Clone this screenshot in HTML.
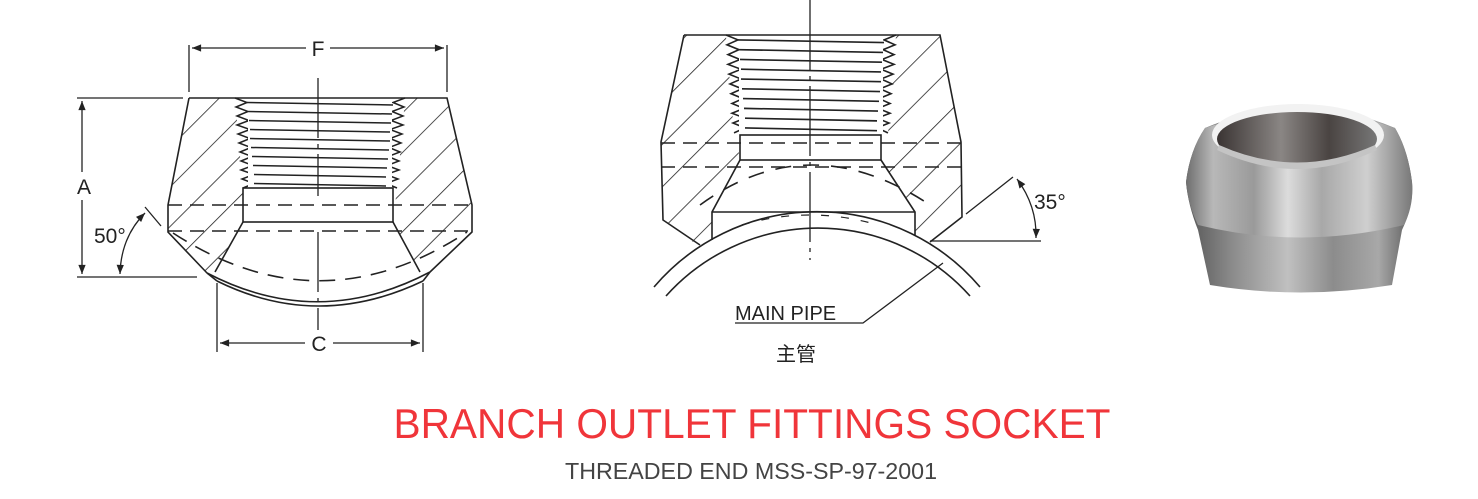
<!DOCTYPE html>
<html><head><meta charset="utf-8"><style>
html,body{margin:0;padding:0;background:#fff;}
svg{display:block;}
</style></head><body>
<svg width="1478" height="499" viewBox="0 0 1478 499" xmlns="http://www.w3.org/2000/svg">
<defs>
<pattern id="h1" width="28" height="28" patternUnits="userSpaceOnUse" patternTransform="rotate(45)">
<line x1="0" y1="0" x2="0" y2="28" stroke="#222" stroke-width="1.6"/></pattern>
<pattern id="h2" width="30" height="30" patternUnits="userSpaceOnUse" patternTransform="rotate(45)">
<line x1="0" y1="0" x2="0" y2="30" stroke="#222" stroke-width="1.6"/></pattern>
<marker id="ar" viewBox="0 0 10 10" refX="10" refY="5" markerWidth="9" markerHeight="7" orient="auto-start-reverse">
<path d="M0,1 L10,5 L0,9 Z" fill="#222"/></marker>
<g id="thr" fill="none" stroke="#222" stroke-width="1.5">
<polyline fill="#fff" points="235,98 247,102.5 236,107 248,111.5 237,116 249,120.5 237,125 250,129.5 238,134 250,138.5 239,143 251,147.5 240,152 252,156.5 241,161 253,165.5 241,170 254,174.5 242,179 254,183.5 243,188"/>
<polyline fill="#fff" points="405,98 393,102.5 404,107 392,111.5 403,116 391,120.5 403,125 390,129.5 402,134 390,138.5 401,143 389,147.5 400,152 388,156.5 399,161 387,165.5 399,170 386,174.5 398,179 386,183.5 397,188"/>
<rect x="248" y="99" width="144" height="88" fill="#fff" stroke="none"/>
<path d="M247,102.5 L393,105 M248,111.5 L392,114 M249,120.5 L391,123 M250,129.5 L390,132 M250,138.5 L390,141 M251,147.5 L389,150 M252,156.5 L388,159 M253,165.5 L387,168 M254,174.5 L386,177 M254,183.5 L386,186"/>
</g>
<linearGradient id="mg" x1="0" y1="0" x2="1" y2="0">
<stop offset="0" stop-color="#6e6e6e"/><stop offset="0.12" stop-color="#b8b8b8"/>
<stop offset="0.3" stop-color="#9a9a9a"/><stop offset="0.45" stop-color="#dcdcdc"/>
<stop offset="0.6" stop-color="#a8a8a8"/><stop offset="0.8" stop-color="#cfcfcf"/>
<stop offset="1" stop-color="#787878"/></linearGradient>
<linearGradient id="mg2" x1="0" y1="0" x2="1" y2="0">
<stop offset="0" stop-color="#555"/><stop offset="0.2" stop-color="#8a8a8a"/>
<stop offset="0.45" stop-color="#c0c0c0"/><stop offset="0.65" stop-color="#8c8c8c"/>
<stop offset="0.85" stop-color="#a8a8a8"/><stop offset="1" stop-color="#5c5c5c"/></linearGradient>
<linearGradient id="ig" x1="0" y1="0" x2="1" y2="0">
<stop offset="0" stop-color="#3a3433"/><stop offset="0.4" stop-color="#8a8684"/>
<stop offset="0.7" stop-color="#4a4442"/><stop offset="1" stop-color="#777"/></linearGradient>
</defs>

<!-- LEFT DRAWING -->
<g stroke="#222" stroke-width="1.6" fill="none">
<polygon points="189,98 235,98 243,188 243,222 215,272 207,273 168,232 168,205" fill="url(#h1)" stroke="none"/>
<polygon points="447,98 405,98 397,188 393,222 420,272 430,272 472,232 472,205" fill="url(#h1)" stroke="none"/>
<path d="M189,98 L447,98 L472,205 L472,232 L430,272 M189,98 L168,205 L168,232 L207,273"/>
<path d="M207,273 Q318,331 430,272"/>
<path d="M217,281 Q318,331 423,281"/>
<path d="M207,273 L217,281 M430,272 L423,281"/>
<rect x="243" y="188" width="150" height="34" fill="#fff"/>
<path d="M243,222 L215,272 M393,222 L420,272"/>
<path d="M168,205 L472,205 M168,231 L472,231" stroke-dasharray="14,8"/>
<path d="M173,233 Q320,329 467,232" stroke-dasharray="16,10"/>
</g>
<use href="#thr"/>
<g stroke="#222" stroke-width="1.3" fill="none">
<path d="M318,78 L318,196 M318,232 L318,330" stroke-dasharray="60,6,4,6"/>
<path d="M189,45 L189,92 M447,45 L447,92"/>
<path d="M192,48 L306,48" marker-start="url(#ar)"/>
<path d="M330,48 L444,48" marker-end="url(#ar)"/>
<path d="M77,98 L183,98 M77,277 L197,277"/>
<path d="M82,101 L82,172" marker-start="url(#ar)"/>
<path d="M82,200 L82,274" marker-end="url(#ar)"/>
<path d="M120,274 Q121,237 145,213" marker-start="url(#ar)" marker-end="url(#ar)"/>
<path d="M145,207 L161,226"/>
<path d="M217,283 L217,352 M423,283 L423,352"/>
<path d="M220,343 L305,343" marker-start="url(#ar)"/>
<path d="M333,343 L420,343" marker-end="url(#ar)"/>
</g>
<g font-family="Liberation Sans, sans-serif" font-size="21" fill="#222">
<text x="318" y="56" text-anchor="middle">F</text>
<text x="84" y="194" text-anchor="middle">A</text>
<text x="94" y="243">50°</text>
<text x="319" y="351" text-anchor="middle">C</text>
</g>

<!-- MIDDLE DRAWING -->
<g stroke="#222" stroke-width="1.6" fill="none">
<polygon points="684,35 726,35 736,135 740,160 712,212 712,240 700,247 663,220 661,142" fill="url(#h2)" stroke="none"/>
<polygon points="940,35 896,35 886,135 881,160 915,212 915,236 930,244 962,217 961,142" fill="url(#h2)" stroke="none"/>
<path d="M684,35 L940,35 L961,142 L962,217 L930,242 M684,35 L661,142 L663,220 L700,245"/>
<rect x="740" y="135" width="141" height="25" fill="#fff"/>
<path d="M740,160 L712,212 L712,240 M881,160 L915,212 L915,236 M712,212 L915,212"/>
<path d="M654,287 A214,214 0 0 1 980,287"/>
<path d="M666,296 A204,204 0 0 1 970,296"/>
<path d="M661,143 L962,143 M661,167 L962,167" stroke-dasharray="14,8"/>
<path d="M700,205 Q810,125 930,205" stroke-dasharray="16,12"/>
<path d="M742,225 Q810,205 878,225" stroke-dasharray="8,12" stroke-width="1.2"/>
</g>
<use href="#thr" transform="translate(491,35) scale(1,1.087) translate(0,-98)"/>
<g stroke="#222" stroke-width="1.3" fill="none">
<path d="M810,0 L810,260" stroke-dasharray="70,6,4,6"/>
<path d="M966,214 L1013,177 M930,241 L1041,241"/>
<path d="M1017,179 Q1037,206 1036,238" marker-start="url(#ar)" marker-end="url(#ar)"/>
<path d="M943,263 L863,323 L735,323"/>
</g>
<g font-family="Liberation Sans, sans-serif" fill="#222">
<text x="1034" y="209" font-size="21">35°</text>
<text x="735" y="320" font-size="20">MAIN PIPE</text>
<text x="796" y="361" font-size="20" text-anchor="middle" font-family="Liberation Sans, 'Noto Sans CJK SC', sans-serif">主管</text>
</g>

<!-- PHOTO -->
<path d="M1210,285 Q1300,300 1392,285 L1402,230 Q1414,205 1412,182 Q1408,150 1395,128 Q1300,88 1205,128 Q1190,150 1186,182 Q1188,205 1198,230 Z" fill="url(#mg2)"/>
<path d="M1186,182 Q1188,205 1198,225 Q1300,250 1404,225 Q1414,205 1412,182 Q1408,150 1395,128 Q1300,95 1205,128 Q1190,150 1186,182 Z" fill="url(#mg)"/>
<ellipse cx="1298" cy="135" rx="86" ry="31" fill="#f2f2f2"/>
<ellipse cx="1297" cy="139" rx="80" ry="27" fill="url(#ig)"/>
<path d="M1219,145 Q1297,180 1375,145 L1377,150 Q1297,188 1217,150 Z" fill="#c4c4c4"/>

<!-- TITLES -->
<text x="752" y="438" text-anchor="middle" font-family="Liberation Sans, sans-serif" font-size="42" fill="#f0353a" textLength="717" lengthAdjust="spacingAndGlyphs">BRANCH OUTLET FITTINGS SOCKET</text>
<text x="751" y="479" text-anchor="middle" font-family="Liberation Sans, sans-serif" font-size="23" fill="#444" textLength="372" lengthAdjust="spacingAndGlyphs">THREADED END MSS-SP-97-2001</text>
</svg>
</body></html>
